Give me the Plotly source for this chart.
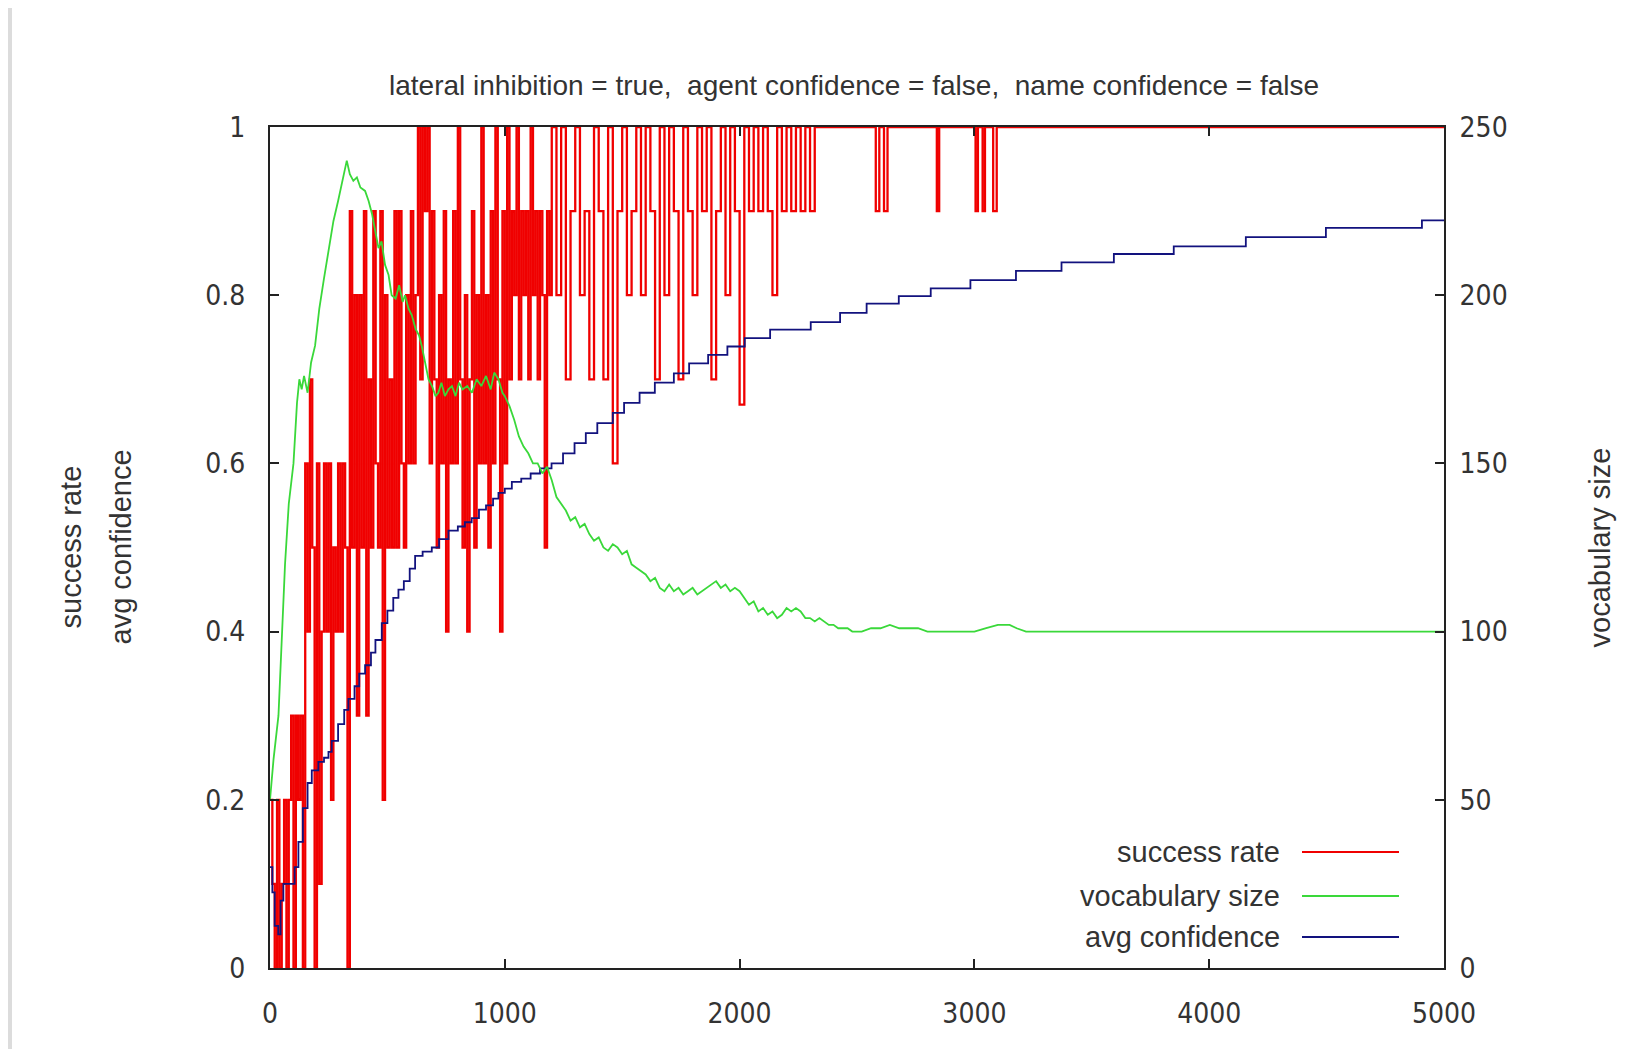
import plotly.graph_objects as go

# ---------------- data ----------------
# success rate (left axis 0..1)
success_x = [0, 10, 20, 30, 40, 50, 60, 70, 80, 90, 100, 110, 120, 130, 140, 150, 160, 170, 180, 190,
             200, 210, 220, 230, 240, 250, 260, 270, 280, 290, 300, 310, 320, 330, 340, 350, 360, 370, 380, 390,
             400, 410, 420, 430, 440, 450, 460, 470, 480, 490, 500, 510, 520, 530, 540, 550, 560, 570, 580, 590,
             600, 610, 620, 630, 640, 650, 660, 670, 680, 690, 700, 710, 720, 730, 740, 750, 760, 770, 780, 790,
             800, 810, 820, 830, 840, 850, 860, 870, 880, 890, 900, 910, 920, 930, 940, 950, 960, 970, 980, 990,
             1000, 1010, 1020, 1030, 1040, 1050, 1060, 1070, 1080, 1090, 1100, 1110, 1120, 1130, 1140, 1150,
             1160, 1170, 1180, 1190, 1200,
             1220, 1240, 1260, 1280, 1300, 1320, 1340, 1360, 1380, 1400, 1420, 1440, 1460, 1480, 1500,
             1520, 1540, 1560, 1580, 1600, 1620, 1640, 1660, 1680, 1700, 1720, 1740, 1760, 1780, 1800,
             1820, 1840, 1860, 1880, 1900, 1920, 1940, 1960, 1980, 2000, 2020, 2040, 2060, 2080, 2100,
             2120, 2140, 2160, 2180, 2200, 2220, 2240, 2260, 2280, 2300, 2320,
             2580, 2595, 2615, 2630, 2840, 2850, 3005, 3015, 3035, 3045, 3080, 3095, 5000]
success_y = [0.2, 0.1, 0.0, 0.2, 0.0, 0.1, 0.2, 0.0, 0.2, 0.3, 0.0, 0.3, 0.2, 0.3, 0.0, 0.6, 0.4, 0.7, 0.5, 0.0,
             0.6, 0.1, 0.4, 0.6, 0.4, 0.6, 0.2, 0.5, 0.4, 0.6, 0.4, 0.6, 0.5, 0.0, 0.9, 0.5, 0.8, 0.3, 0.8, 0.5,
             0.9, 0.3, 0.7, 0.5, 0.9, 0.6, 0.5, 0.9, 0.2, 0.8, 0.5, 0.7, 0.5, 0.9, 0.5, 0.9, 0.6, 0.5, 0.8, 0.6,
             0.9, 0.6, 0.8, 1.0, 0.7, 1.0, 0.9, 1.0, 0.6, 0.9, 0.7, 0.5, 0.8, 0.6, 0.9, 0.4, 0.7, 0.6, 0.9, 0.6,
             1.0, 0.7, 0.5, 0.8, 0.4, 0.7, 0.9, 0.5, 0.8, 0.6, 1.0, 0.6, 0.8, 0.5, 0.9, 0.6, 1.0, 0.7, 0.4, 0.9,
             0.6, 1.0, 0.7, 0.9, 0.8, 1.0, 0.7, 0.9, 0.8, 0.9, 0.7, 1.0, 0.8, 0.9, 0.7, 0.9,
             0.8, 0.5, 0.9, 0.8, 1.0,
             0.8, 1.0, 0.7, 0.9, 1.0, 0.8, 0.9, 0.7, 1.0, 0.9, 0.7, 1.0, 0.6, 0.9, 1.0,
             0.8, 0.9, 1.0, 0.8, 1.0, 0.9, 0.7, 1.0, 0.8, 1.0, 0.9, 0.7, 1.0, 0.9, 0.8,
             1.0, 0.9, 1.0, 0.7, 0.9, 1.0, 0.8, 1.0, 0.9, 0.67, 1.0, 0.9, 1.0, 0.9, 1.0,
             0.9, 0.8, 1.0, 0.9, 1.0, 0.9, 1.0, 0.9, 1.0, 0.9, 1.0,
             0.9, 1.0, 0.9, 1.0, 0.9, 1.0, 0.9, 1.0, 0.9, 1.0, 0.9, 1.0, 1.0]

# vocabulary size (right axis 0..250)
vocab_x = [0, 15, 36, 50, 64, 80, 100, 115, 125, 135, 145, 160, 175, 192, 210, 230, 250, 270, 290, 310,
           327, 340, 355, 370, 385, 405, 420, 435, 450, 462, 475, 490, 505, 518, 535, 550, 565, 575, 590, 604,
           620, 635, 646, 660, 675, 690, 705, 717, 730, 745, 760, 775, 790, 805, 820, 840, 860, 880, 900, 920,
           940, 955, 973, 990, 1000, 1020, 1040, 1060, 1080, 1100, 1120, 1140, 1160, 1180, 1200, 1220, 1240,
           1260, 1280, 1300, 1320, 1340, 1360, 1380, 1400, 1420, 1440, 1460, 1480, 1500, 1520, 1540, 1560,
           1580, 1600, 1620, 1640, 1660, 1680, 1700, 1720, 1740, 1760, 1780, 1800, 1820, 1840, 1860, 1880,
           1900, 1920, 1940, 1960, 1980, 2000, 2020, 2040, 2060, 2080, 2100, 2120, 2140, 2160, 2180, 2200,
           2220, 2240, 2260, 2280, 2300, 2320, 2340, 2360, 2380, 2400, 2420, 2440, 2460, 2480, 2520, 2560,
           2600, 2640, 2680, 2720, 2760, 2800, 2850, 2900, 2950, 3000, 3050, 3100, 3150, 3180, 3220, 5000]
vocab_y = [50, 62, 75, 100, 120, 138, 150, 168, 175, 172, 176, 171, 180, 185, 196, 205, 214, 222, 228, 234,
           240, 236, 234, 235, 232, 231, 228, 224, 218, 214, 216, 209, 206, 200, 199, 203, 198, 200, 196, 194,
           190, 188, 185, 180, 175, 173, 170, 171, 174, 170, 172, 173, 170, 174, 172, 173, 171, 175, 173, 176,
           172, 177, 175, 171, 170, 167, 163, 158, 155, 153, 150, 150, 147, 149, 145, 140, 138,
           136, 133, 134, 131, 132, 129, 127, 128, 125, 124, 126, 125, 123, 124, 120, 119,
           118, 117, 115, 116, 113, 112, 114, 112, 113, 111, 112, 113, 111, 112, 113, 114,
           115, 113, 114, 112, 113, 112, 110, 108, 109, 106, 107, 105, 106, 104, 105, 107,
           106, 107, 106, 104, 104, 103, 104, 103, 102, 102, 101, 101, 101, 100, 100, 101,
           101, 102, 101, 101, 101, 100, 100, 100, 100, 100, 101, 102, 102, 101, 100, 100]

# avg confidence (left axis 0..1), drawn as a staircase
conf_x = [0, 10, 20, 35, 45, 57, 92, 105, 121, 140, 160, 178, 206, 230, 249, 263, 290, 316, 334, 360,
          380, 405, 430, 449, 476, 500, 525, 547, 570, 595, 618, 650, 689, 720, 760, 800, 830, 859, 890, 920,
          950, 973, 1000, 1030, 1070, 1110, 1150, 1199, 1248, 1297, 1345, 1394, 1460, 1508, 1574, 1639, 1720,
          1785, 1866, 1948, 2022, 2130, 2303, 2428, 2541, 2678, 2814, 2983, 3177, 3371, 3594, 3849, 4156,
          4497, 4906, 5000]
conf_y = [0.12, 0.09, 0.05, 0.04, 0.08, 0.10, 0.10, 0.12, 0.15, 0.19, 0.22, 0.235, 0.245, 0.25, 0.257, 0.27,
          0.29, 0.307, 0.32, 0.335, 0.35, 0.36, 0.375, 0.39, 0.41, 0.425, 0.44, 0.45, 0.46, 0.475, 0.49, 0.495,
          0.50, 0.51, 0.52, 0.525, 0.53, 0.535, 0.545, 0.55, 0.558, 0.565, 0.57, 0.578, 0.582, 0.588, 0.594,
          0.600, 0.612, 0.624, 0.636, 0.648, 0.660, 0.672, 0.684, 0.696, 0.707, 0.719, 0.729, 0.739, 0.749,
          0.759, 0.768, 0.779, 0.79, 0.799, 0.808, 0.818, 0.829, 0.839, 0.849, 0.858, 0.869, 0.88, 0.889, 0.889]

x_ticks = [0, 1000, 2000, 3000, 4000, 5000]
left_ticks = [0, 0.2, 0.4, 0.6, 0.8, 1]
right_ticks = [0, 50, 100, 150, 200, 250]

title_text = "lateral inhibition = true,  agent confidence = false,  name confidence = false"
legend_names = ["success rate", "vocabulary size", "avg confidence"]
colors = ["#f00000", "#3ad83a", "#12127e"]

# ---------------- figure ----------------
# The page body adds an 8 px offset; positions below are in window pixels.
OFF = 8
WIN_W, WIN_H = 1637, 1049
W, H = WIN_W - OFF, WIN_H - OFF
PLOT_L, PLOT_R, PLOT_T, PLOT_B = 270, 1444, 127, 968   # plot frame in window pixels
L = PLOT_L - OFF
R = WIN_W - PLOT_R
T = PLOT_T - OFF
B = WIN_H - PLOT_B
pw, ph = PLOT_R - PLOT_L, PLOT_B - PLOT_T


def px(xw):
    return (xw - PLOT_L) / pw


def py(yw):
    return (PLOT_B - yw) / ph


TXT = "#333333"
SANS = "Liberation Sans, Arial, sans-serif"
NARROW = "Liberation Sans Narrow, Arial Narrow, DejaVu Sans Condensed, Liberation Sans, sans-serif"

fig = go.Figure()
fig.add_trace(go.Scatter(x=success_x, y=success_y, mode="lines", name=legend_names[0],
                         line=dict(color=colors[0], width=2.3, shape="hv"), showlegend=False))
fig.add_trace(go.Scatter(x=vocab_x, y=vocab_y, mode="lines", name=legend_names[1], yaxis="y2",
                         line=dict(color=colors[1], width=1.8), showlegend=False))
fig.add_trace(go.Scatter(x=conf_x, y=conf_y, mode="lines", name=legend_names[2],
                         line=dict(color=colors[2], width=1.8, shape="hv"), showlegend=False))

axis_common = dict(showgrid=False, zeroline=False, showline=True, linecolor="#222222", linewidth=2,
                   ticks="inside", ticklen=9, tickwidth=1.5, tickcolor="#222222",
                   tickfont=dict(family=NARROW, size=28, color=TXT), automargin=False)

fig.update_layout(
    width=W, height=H, autosize=False,
    margin=dict(l=L, r=R, t=T, b=B, pad=0),
    paper_bgcolor="white", plot_bgcolor="white",
    xaxis=dict(range=[0, 5000], tickvals=x_ticks, mirror="ticks", ticklabelstandoff=19, **axis_common),
    yaxis=dict(range=[0, 1], tickvals=left_ticks, ticklabelstandoff=17, **axis_common),
    yaxis2=dict(range=[0, 250], tickvals=right_ticks, overlaying="y", side="right",
                ticklabelstandoff=8, **axis_common),
    showlegend=False,
)

# grey backdrop strip on the left edge of the page
fig.add_shape(type="rect", xref="paper", yref="paper", layer="below",
              x0=px(OFF - 2), x1=px(12), y0=py(WIN_H + 5), y1=py(OFF - 2),
              fillcolor="#dcdcdc", line=dict(width=0))

# title
fig.add_annotation(text=title_text, xref="paper", yref="paper", x=px(854), y=py(85),
                   xanchor="center", yanchor="middle", showarrow=False,
                   font=dict(family=SANS, size=28, color=TXT))

# axis titles
for txt, xw in [("success rate", 70), ("avg confidence", 120), ("vocabulary size", 1599)]:
    fig.add_annotation(text=txt, xref="paper", yref="paper", x=px(xw), y=0.5,
                       textangle=-90, showarrow=False, xanchor="center", yanchor="middle",
                       font=dict(family=SANS, size=29, color=TXT))

# legend (text left of sample line, as in the original)
legend_rows = [852, 896, 937]
for name, col, yy in zip(legend_names, colors, legend_rows):
    fig.add_annotation(text=name, xref="paper", yref="paper", x=px(1282), y=py(yy),
                       xanchor="right", yanchor="middle", showarrow=False,
                       font=dict(family=SANS, size=29, color=TXT))
    fig.add_shape(type="line", xref="paper", yref="paper", x0=px(1302), x1=px(1399),
                  y0=py(yy), y1=py(yy), line=dict(color=col, width=2))

fig.write_html("out.html")
